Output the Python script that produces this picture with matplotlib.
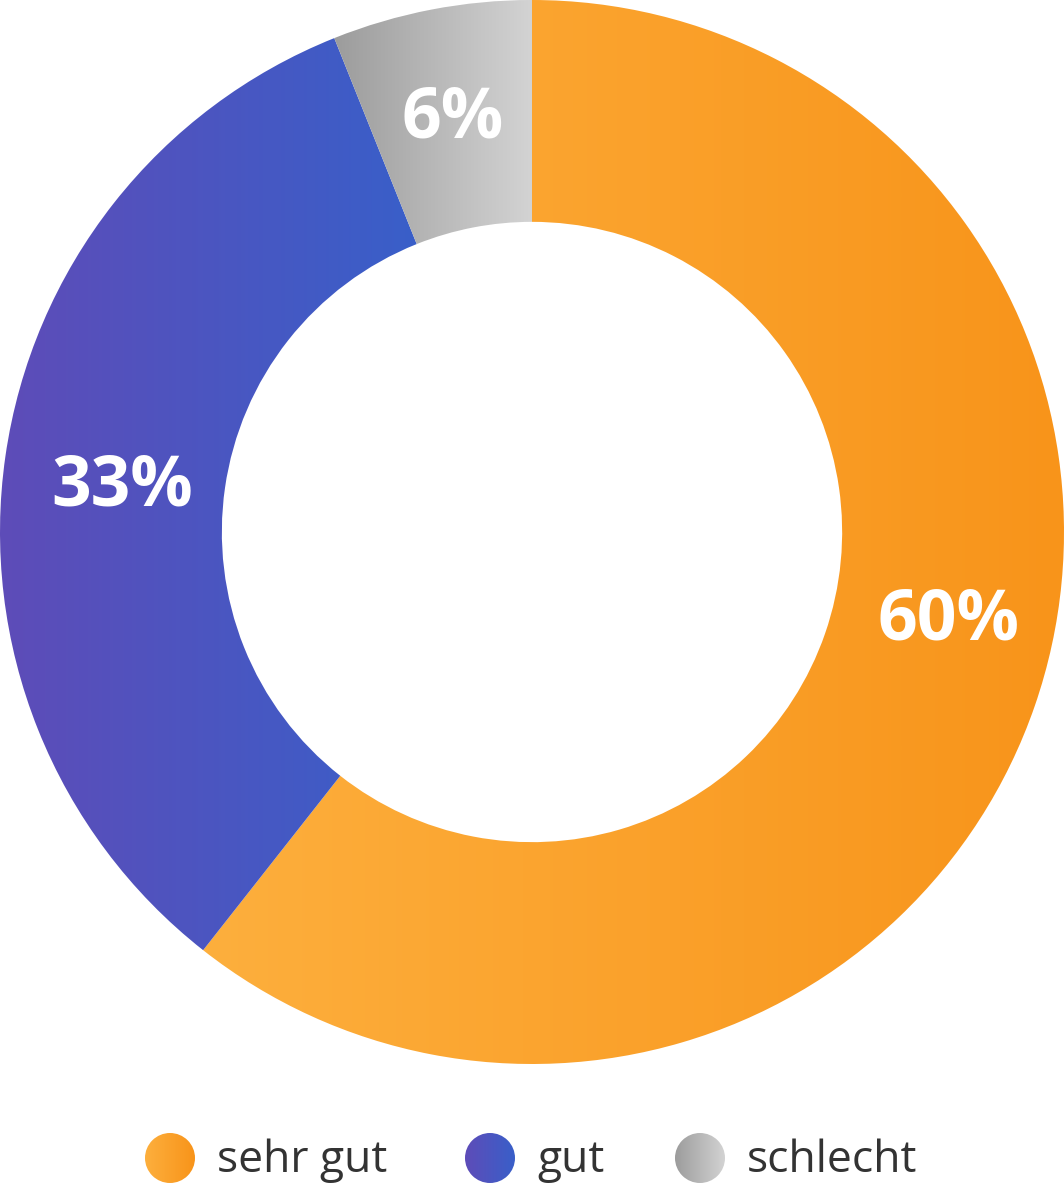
import numpy as np
import matplotlib
matplotlib.use("Agg")
import matplotlib.pyplot as plt
from matplotlib.colors import LinearSegmentedColormap
from matplotlib.patches import Circle

# data
categories = ["sehr gut", "gut", "schlecht"]
values     = [60, 33, 6]
labels     = [f"{v}%" for v in values]

# horizontal gradient per slice (left -> right)
GRAD = [("#fdaf3d", "#f8941a"),
        ("#5e4cb8", "#395fc9"),
        ("#9c9c9c", "#d3d3d3")]
# small angular nudge of the value labels (degrees, ccw)
LABEL_NUDGE = [7, 2, 0]
LABEL_R     = [0.80, 0.775, 0.79]

W, H, DPI = 1064, 1197, 100
FONT = ["Open Sans", "DejaVu Sans"]


def gradient_fill(ax, patch, c0, c1, extent):
    cmap = LinearSegmentedColormap.from_list("g", [c0, c1])
    grad = np.linspace(0, 1, 256).reshape(1, -1)
    im = ax.imshow(grad, cmap=cmap, extent=extent, aspect="auto",
                   interpolation="bilinear", zorder=1)
    im.set_clip_path(patch)


fig = plt.figure(figsize=(W / DPI, H / DPI), dpi=DPI)
fig.patch.set_facecolor("white")

# donut
ax = fig.add_axes([0, (H - 1064) / H, 1, 1064 / H])
wedges, _ = ax.pie(values, startangle=90, counterclock=False, radius=1,
                   wedgeprops=dict(width=0.417, linewidth=0))
ax.set_xlim(-1, 1); ax.set_ylim(-1, 1); ax.set_aspect("equal"); ax.axis("off")
fig.canvas.draw()
inv = ax.transData.inverted()
for w, (c0, c1), lab, nd, r in zip(wedges, GRAD, labels, LABEL_NUDGE, LABEL_R):
    verts = inv.transform(w.get_verts())
    x0, x1 = verts[:, 0].min(), verts[:, 0].max()
    y0, y1 = verts[:, 1].min(), verts[:, 1].max()
    w.set_facecolor("none")
    gradient_fill(ax, w, c0, c1, [x0, x1, y0, y1])
    mid = np.deg2rad((w.theta1 + w.theta2) / 2 + nd)
    ax.text(r * np.cos(mid), r * np.sin(mid), lab, ha="center", va="center",
            color="white", fontsize=50, fontweight="bold", family=FONT, zorder=3)
ax.set_xlim(-1, 1); ax.set_ylim(-1, 1)

# legend
lax = fig.add_axes([0, 0, 1, 133 / H])
lax.set_xlim(0, W); lax.set_ylim(0, 133); lax.axis("off")
leg_x = [170, 490, 700]
for cx, (c0, c1), name in zip(leg_x, GRAD, categories):
    circ = Circle((cx, 39), 25, facecolor="none", edgecolor="none")
    lax.add_patch(circ)
    gradient_fill(lax, circ, c0, c1, [cx - 25, cx + 25, 14, 64])
    lax.text(cx + 47, 36, name, ha="left", va="center", color="#333333",
             fontsize=32, fontweight="medium", family=FONT)

fig.savefig("out.png", dpi=DPI)
